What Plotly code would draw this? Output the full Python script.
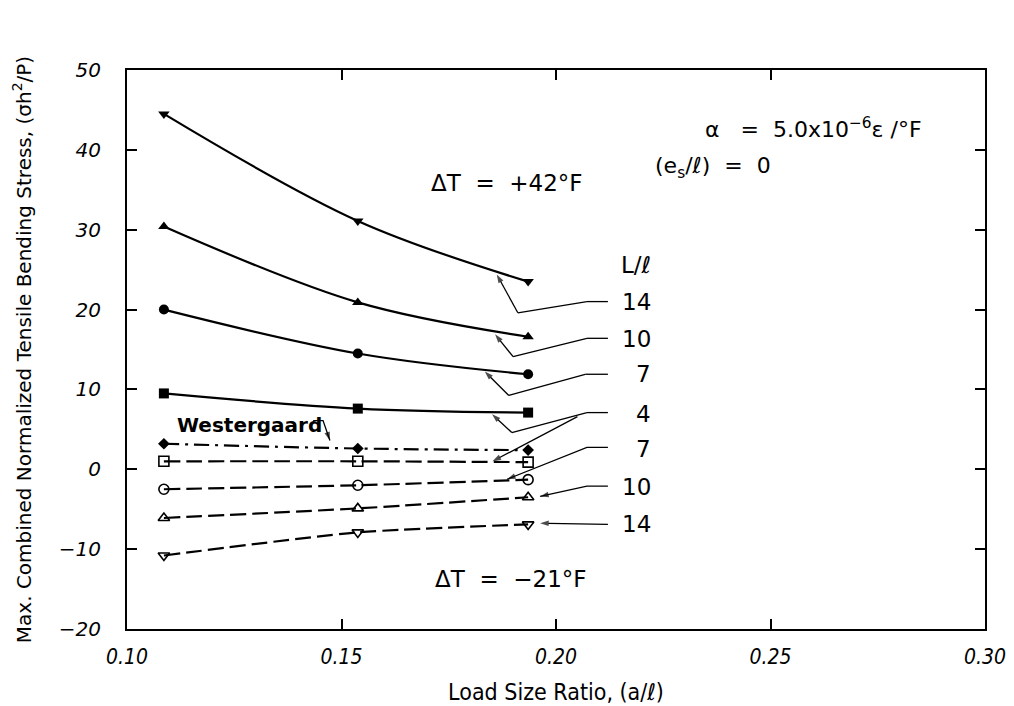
import plotly.graph_objects as go

# ---------------- data ----------------
load_ratio = [0.1086, 0.1538, 0.1935]

# dT = +42 F (solid lines), L/l = 14, 10, 7, 4
pos_14 = [44.5, 31.1, 23.5]
pos_10 = [30.4, 20.9, 16.6]
pos_7 = [20.0, 14.5, 11.9]
pos_4 = [9.5, 7.6, 7.1]

# Westergaard
westergaard = [3.2, 2.6, 2.4]

# dT = -21 F (dashed lines), L/l = 4, 7, 10, 14
neg_4 = [1.0, 1.0, 0.9]
neg_7 = [-2.5, -2.0, -1.3]
neg_10 = [-6.1, -4.9, -3.5]
neg_14 = [-10.8, -7.9, -6.9]

x_ticks = [0.10, 0.15, 0.20, 0.25, 0.30]
x_tick_text = ["0.10", "0.15", "0.20", "0.25", "0.30"]
y_ticks = [-20, -10, 0, 10, 20, 30, 40, 50]

# right-hand labels (L/l values) and their leader lines, in data coordinates
label_x = 0.2226
labels = ["L/ℓ", "14", "10", "7", "4", "7", "10", "14"]
label_y = [25.6, 21.0, 16.3, 11.9, 6.9, 2.6, -2.2, -6.9]

leaders = [
    ([0.2121, 0.2072, 0.1911, 0.1862], [21.0, 21.0, 19.6, 24.4]),
    ([0.2121, 0.2072, 0.1900, 0.1858], [16.4, 16.4, 14.1, 16.9]),
    ([0.2121, 0.2068, 0.1890, 0.1834], [11.9, 11.9, 9.25, 12.25]),
    ([0.2121, 0.2072, 0.1897, 0.1851], [7.1, 7.1, 4.6, 6.9]),
    ([0.2050, 0.1852], [6.6, 1.0]),
    ([0.2121, 0.2072, 0.1886], [2.75, 2.75, -1.25]),
    ([0.2121, 0.2072, 0.1963], [-2.1, -2.1, -3.4]),
    ([0.2121, 0.1963], [-6.9, -6.75]),
]
west_bracket = ([0.1434, 0.1457, 0.1473], [6.1, 6.1, 3.6])

FONT = "DejaVu Sans, Liberation Sans, sans-serif"
COND = "DejaVu Sans Condensed, DejaVu Sans, sans-serif"

fig = go.Figure()

solid = [(pos_14, "triangle-down"), (pos_10, "triangle-up"), (pos_7, "circle"), (pos_4, "square")]
for ys, sym in solid:
    fig.add_trace(go.Scatter(
        x=load_ratio, y=ys, mode="lines+markers", line=dict(color="black", width=2.2, shape="spline"),
        marker=dict(symbol=sym, size=10, color="black"), showlegend=False, hoverinfo="skip"))

fig.add_trace(go.Scatter(
    x=load_ratio, y=westergaard, mode="lines+markers",
    line=dict(color="black", width=2.2, dash="longdashdot", shape="spline"),
    marker=dict(symbol="diamond", size=9, color="black"), showlegend=False, hoverinfo="skip"))

dashed = [(neg_4, "square-open"), (neg_7, "circle-open"), (neg_10, "triangle-up-open"), (neg_14, "triangle-down-open")]
for ys, sym in dashed:
    fig.add_trace(go.Scatter(
        x=load_ratio, y=ys, mode="lines+markers",
        line=dict(color="black", width=2.2, dash="16px,6px", shape="spline", smoothing=0.6),
        marker=dict(symbol=sym, size=10, color="black", line=dict(width=1.6, color="black")),
        showlegend=False, hoverinfo="skip"))

# leader lines with arrowheads at their tips
for lx, ly in leaders + [west_bracket]:
    n = len(lx)
    fig.add_trace(go.Scatter(
        x=lx, y=ly, mode="lines+markers", line=dict(color="black", width=1.3),
        marker=dict(symbol=["circle"] * (n - 1) + ["arrow"], size=[0] * (n - 1) + [9],
                    angleref="previous", color="black", line=dict(width=0)),
        showlegend=False, hoverinfo="skip"))

for t, yv in zip(labels, label_y):
    fig.add_annotation(x=label_x, y=yv, text=t, showarrow=False, xanchor="right",
                       font=dict(family=FONT, size=23, color="black"))

fig.add_annotation(x=0.1112, y=5.6, text="Westergaard", showarrow=False, xanchor="left",
                   font=dict(family=FONT, size=20, color="black", weight="bold"))
fig.add_annotation(x=0.1885, y=35.9, text="ΔT  =  +42°F", showarrow=False,
                   font=dict(family=FONT, size=23, color="black"))
fig.add_annotation(x=0.1895, y=-13.8, text="ΔT  =  −21°F", showarrow=False,
                   font=dict(family=FONT, size=23, color="black"))
fig.add_annotation(x=0.2342, y=42.8, text="α   =  5.0x10<sup>−6</sup>ε /°F", showarrow=False,
                   xanchor="left", font=dict(family=FONT, size=22, color="black"))
fig.add_annotation(x=0.2226, y=37.8, text="(e<sub>s</sub>/ℓ)  =  0", showarrow=False,
                   xanchor="left", font=dict(family=FONT, size=22, color="black"))

axis_common = dict(showline=True, linecolor="black", linewidth=2, mirror="ticks",
                   ticks="inside", ticklen=10, tickwidth=2, tickcolor="black",
                   showgrid=False, zeroline=False)

fig.update_xaxes(range=[0.10, 0.30], tickvals=x_ticks, ticktext=x_tick_text,
                 tickfont=dict(family=COND, size=21, style="italic", color="black"),
                 ticklabelstandoff=8,
                 title=dict(text="Load Size Ratio, (a/ℓ)", standoff=16,
                            font=dict(family=COND, size=23, color="black")),
                 **axis_common)
fig.update_yaxes(range=[-20, 50], tickvals=y_ticks,
                 tickfont=dict(family=FONT, size=20, style="italic", color="black"),
                 ticklabelstandoff=20,
                 title=dict(text="Max. Combined Normalized Tensile Bending Stress, (σh<sup>2</sup>/P)",
                            standoff=22, font=dict(family=FONT, size=20, color="black")),
                 **axis_common)

fig.update_layout(width=1014, height=706, margin=dict(l=127, r=29, t=70, b=77, autoexpand=False),
                  plot_bgcolor="white", paper_bgcolor="white", showlegend=False)

fig.write_html("out.html")
